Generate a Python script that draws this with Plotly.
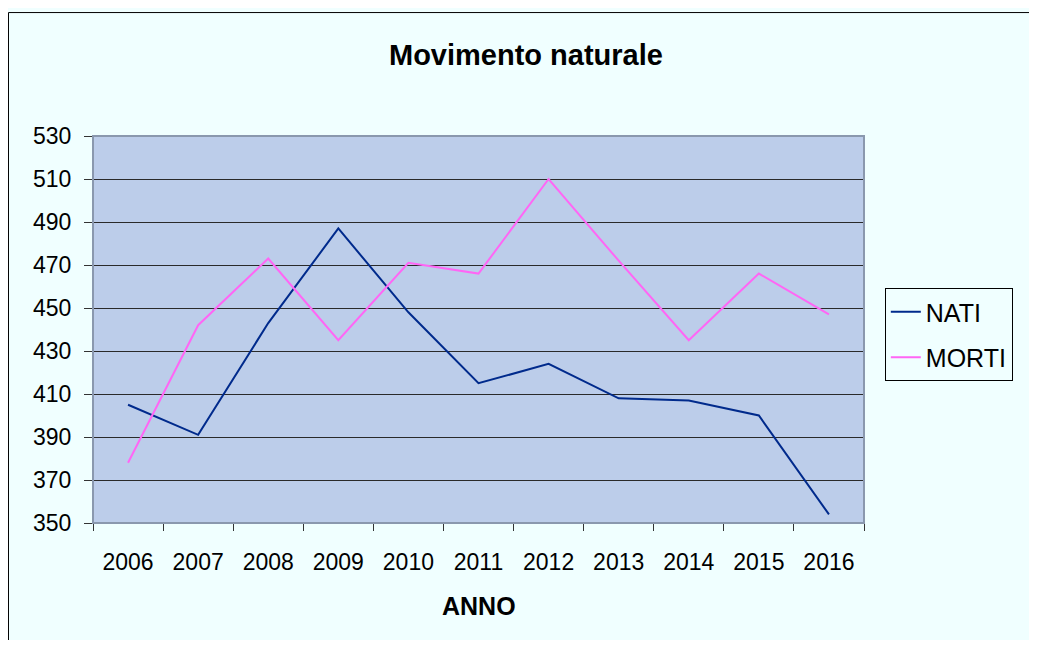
import plotly.graph_objects as go

# data
anni = ['2006', '2007', '2008', '2009', '2010', '2011', '2012', '2013', '2014', '2015', '2016']
nati = [405, 391, 443, 487, 448, 415, 424, 408, 407, 400, 354]
morti = [378, 442, 473, 435, 471, 466, 510, 472, 435, 466, 447]

font = 'Liberation Sans, Arial, sans-serif'

fig = go.Figure()
fig.add_trace(go.Scatter(x=anni, y=nati, name='NATI', mode='lines',
                         line=dict(color='#002A8C', width=2), legendgroup='a'))
fig.add_trace(go.Scatter(x=anni, y=morti, name='MORTI', mode='lines',
                         line=dict(color='#FF66F5', width=2), legendgroup='b'))

# page body has an 8px margin, so the figure is a bit smaller than the window
fig.update_layout(
    width=1029, height=632,
    margin=dict(l=85, r=173, t=128, b=117),
    paper_bgcolor='#F0FFFF', plot_bgcolor='#BCCDEA',
    font=dict(family=font, size=23, color='black'),
    showlegend=True,
    legend=dict(x=1.027, y=0.607, xanchor='left', yanchor='top',
                bgcolor='#F0FFFF', bordercolor='black', borderwidth=1,
                font=dict(size=25), tracegroupgap=10),
)

fig.update_xaxes(type='category', range=[-0.5, 10.5], tickson='boundaries',
                 ticks='outside', ticklen=7, tickcolor='#333333',
                 showgrid=False, showline=True, linecolor='#555555',
                 ticklabelstandoff=18, zeroline=False)
fig.update_yaxes(range=[350, 530], tick0=350, dtick=20, ticks='outside', ticklen=8,
                 tickcolor='#333333', showgrid=True, gridcolor='#2A2A2A',
                 gridwidth=1, showline=True, linecolor='#333333',
                 ticklabelstandoff=8, zeroline=False)

# plot area border and outer chart border
fig.add_shape(type='rect', xref='paper', yref='paper', x0=0, x1=1, y0=0, y1=1,
              line=dict(color='#8A98AE', width=2), layer='above')
fig.add_shape(type='rect', xref='paper', yref='paper', x0=-0.1096, x1=1.5,
              y0=-0.6, y1=1.319, line=dict(color='black', width=1))

fig.add_annotation(text='<b>Movimento naturale</b>', xref='paper', yref='paper',
                   x=0.561, y=1.209, xanchor='center', yanchor='middle',
                   showarrow=False, font=dict(size=29, family=font))
fig.add_annotation(text='<b>ANNO</b>', xref='paper', yref='paper',
                   x=0.5, y=-0.2145, xanchor='center', yanchor='middle',
                   showarrow=False, font=dict(size=25, family=font))

fig.write_html("out.html")
